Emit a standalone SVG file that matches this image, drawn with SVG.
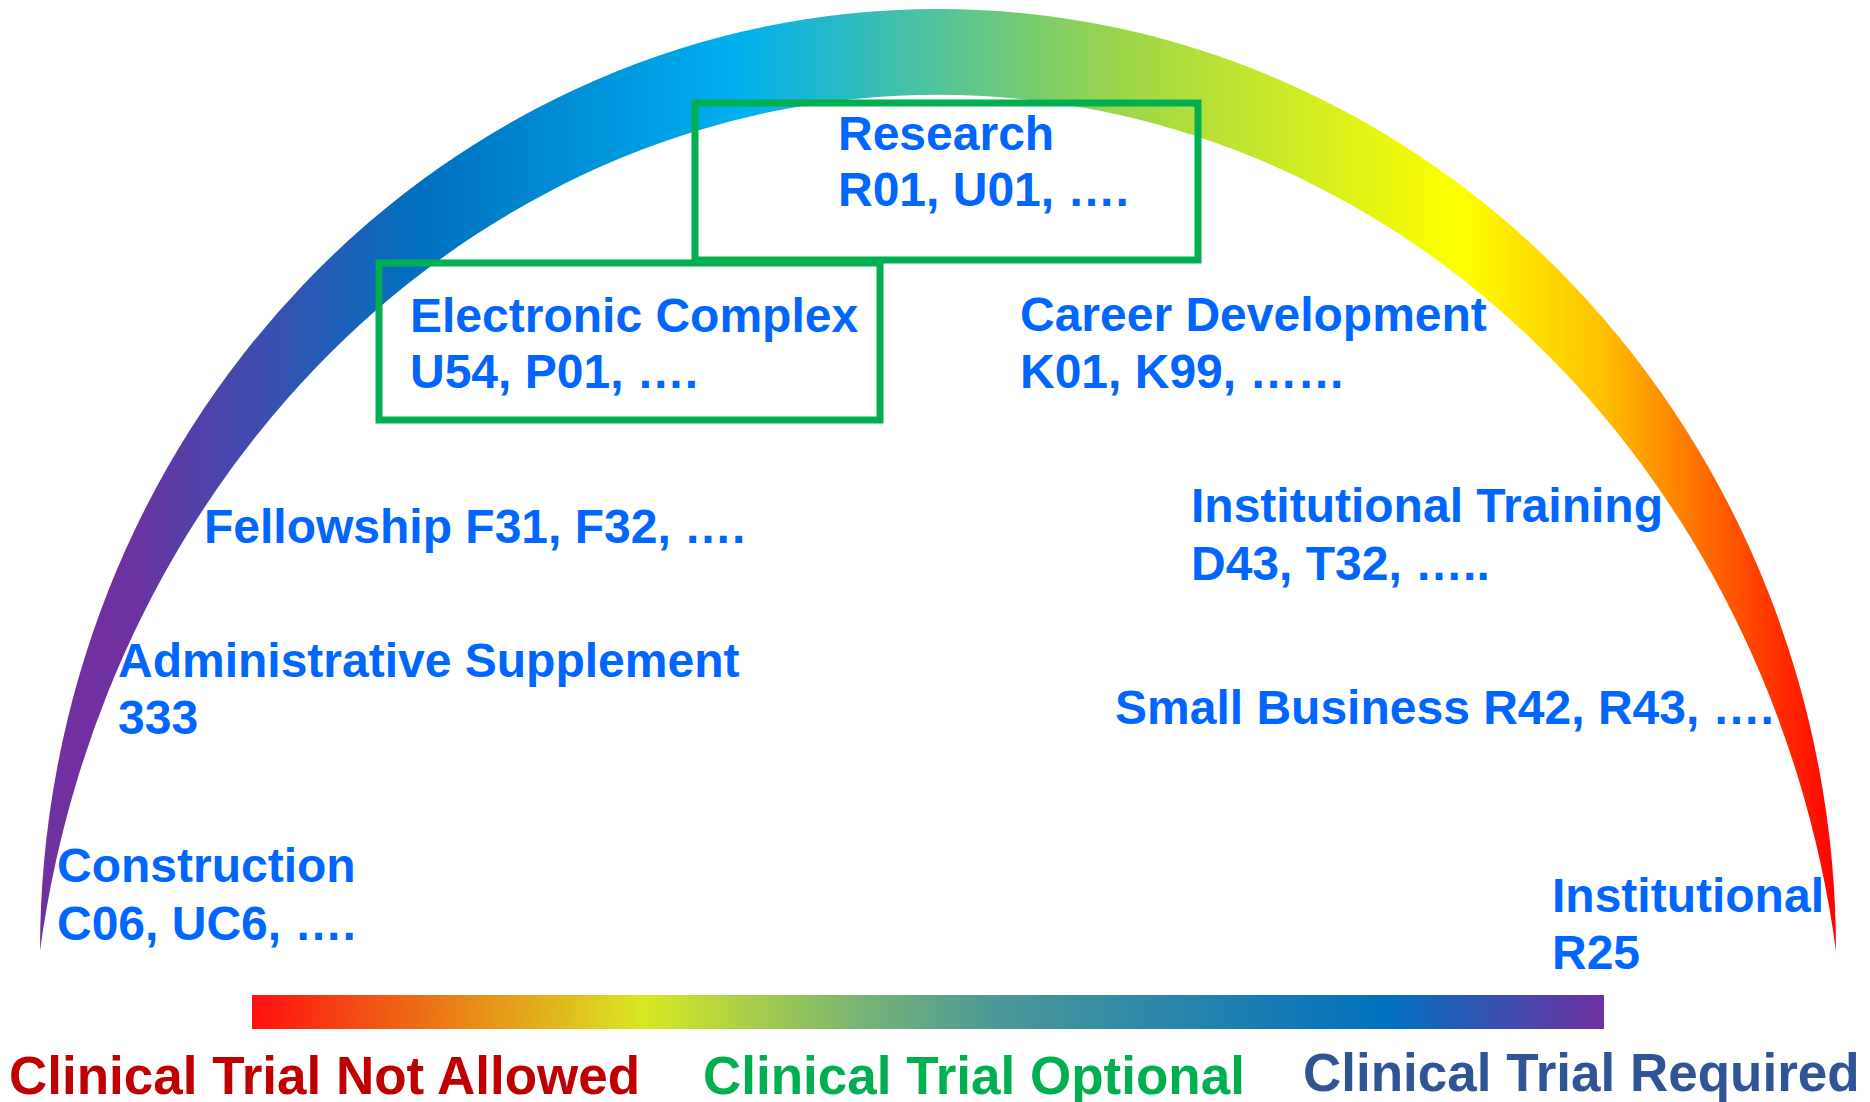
<svg xmlns="http://www.w3.org/2000/svg" width="1870" height="1102" viewBox="0 0 1870 1102">
  <defs>
    <linearGradient id="arcGrad" gradientUnits="userSpaceOnUse" x1="40" y1="0" x2="1836" y2="0">
      <stop offset="0" stop-color="#7030A0"/>
      <stop offset="0.045" stop-color="#7030A0"/>
      <stop offset="0.212" stop-color="#0070C0"/>
      <stop offset="0.39" stop-color="#00B0F0"/>
      <stop offset="0.598" stop-color="#9AD54C"/>
      <stop offset="0.79" stop-color="#FFFF00"/>
      <stop offset="0.87" stop-color="#FFC000"/>
      <stop offset="1" stop-color="#FF0000"/>
    </linearGradient>
    <linearGradient id="barGrad" gradientUnits="userSpaceOnUse" x1="252" y1="1000" x2="1604" y2="1024">
      <stop offset="0" stop-color="#FF1010"/>
      <stop offset="0.12" stop-color="#EE6A16"/>
      <stop offset="0.29" stop-color="#D8E820"/>
      <stop offset="0.45" stop-color="#78B474"/>
      <stop offset="0.55" stop-color="#4C9898"/>
      <stop offset="0.84" stop-color="#0070C0"/>
      <stop offset="1" stop-color="#7030A0"/>
    </linearGradient>
  </defs>
  <style>
    .lbl { font-family: "Liberation Sans", Arial, sans-serif; font-weight: bold; font-size: 48px; fill: #0066FF; }
    .leg { font-family: "Liberation Sans", Arial, sans-serif; font-weight: bold; font-size: 53px; }
    .box { fill: none; stroke: #00B050; stroke-width: 7; }
  </style>
  <rect x="0" y="0" width="1870" height="1102" fill="#FFFFFF"/>

  <g id="arc">
    <path d="M 40 951 A 898 942 0 0 1 1836 951 A 908 1005 0 0 0 40 951 Z" fill="url(#arcGrad)"/>
  </g>

  <g id="scale-bar">
    <rect x="252" y="995" width="1352" height="34" fill="url(#barGrad)"/>
  </g>

  <g id="connectors"></g>

  <g id="node-research">
    <rect class="box" x="695" y="103" width="503" height="157"/>
    <text class="lbl" x="838" y="150">Research</text>
    <text class="lbl" x="838" y="206">R01, U01, ….</text>
  </g>

  <g id="node-electronic-complex">
    <rect class="box" x="379" y="263" width="501" height="157"/>
    <text class="lbl" x="410" y="332">Electronic Complex</text>
    <text class="lbl" x="410" y="388">U54, P01, ….</text>
  </g>

  <g id="node-career-development">
    <text class="lbl" x="1020" y="331">Career Development</text>
    <text class="lbl" x="1020" y="388">K01, K99, ……</text>
  </g>

  <g id="node-fellowship">
    <text class="lbl" x="204" y="543">Fellowship F31, F32, ….</text>
  </g>

  <g id="node-institutional-training">
    <text class="lbl" x="1191" y="522">Institutional Training</text>
    <text class="lbl" x="1191" y="580">D43, T32, …..</text>
  </g>

  <g id="node-administrative-supplement">
    <text class="lbl" x="118" y="677">Administrative Supplement</text>
    <text class="lbl" x="118" y="734">333</text>
  </g>

  <g id="node-small-business">
    <text class="lbl" x="1115" y="724">Small Business R42, R43, ….</text>
  </g>

  <g id="node-construction">
    <text class="lbl" x="57" y="882">Construction</text>
    <text class="lbl" x="57" y="940">C06, UC6, ….</text>
  </g>

  <g id="node-institutional">
    <text class="lbl" x="1552" y="912">Institutional</text>
    <text class="lbl" x="1552" y="969">R25</text>
  </g>

  <g id="legend">
    <text class="leg" x="9" y="1094" fill="#C00000">Clinical Trial Not Allowed</text>
    <text class="leg" x="703" y="1094" fill="#00B050">Clinical Trial Optional</text>
    <text class="leg" x="1303" y="1091" fill="#2F5597">Clinical Trial Required</text>
  </g>
</svg>
